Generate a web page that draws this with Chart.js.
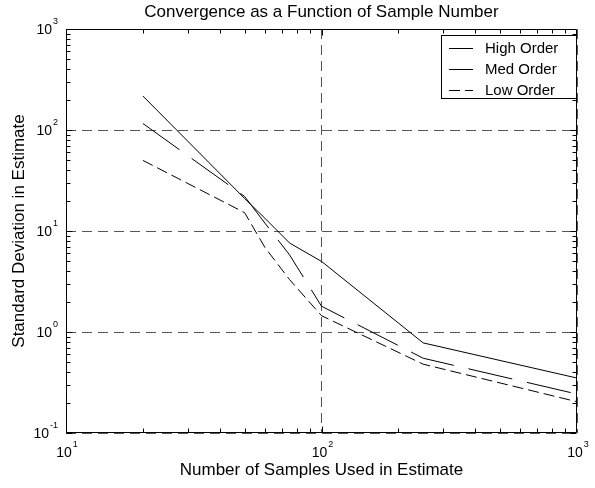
<!DOCTYPE html>
<html>
<head>
<meta charset="utf-8">
<script src="https://cdn.jsdelivr.net/npm/chart.js@4.4.1/dist/chart.umd.min.js"></script>
<style>
  html, body { margin: 0; padding: 0; background: #fff; }
</style>
</head>
<body>
<canvas id="chart" width="595" height="488"></canvas>
<script>
// values
const sampleCounts = [20, 50, 60, 75, 100, 250, 1000];
const highOrder = [217, 21, 13.4, 7.6, 5.0, 0.78, 0.35];
const medOrder = [116, 22, 12, 5.8, 1.8, 0.55, 0.243];
const lowOrder = [50, 15.2, 6.9, 3.3, 1.45, 0.48, 0.204];
const seriesNames = ['High Order', 'Med Order', 'Low Order'];
const xDecades = [10, 100, 1000];
const yDecades = [0.1, 1, 10, 100, 1000];

const FONT = '"Liberation Sans", Arial, sans-serif';

function toPoints(values) {
    return sampleCounts.map((n, i) => ({ x: n, y: values[i] }));
}

// "10" with a raised exponent, like the matlab tick labels
function drawPower(ctx, value, x, y, align) {
    const exp = String(Math.round(Math.log10(value)));
    ctx.font = '14px ' + FONT;
    const bw = ctx.measureText('10').width;
    ctx.font = '9px ' + FONT;
    const ew = ctx.measureText(exp).width;
    const total = bw + 1 + ew;
    const left = align === 'right' ? x - total : x - total / 2;
    ctx.textBaseline = 'middle';
    ctx.textAlign = 'left';
    ctx.font = '14px ' + FONT;
    ctx.fillText('10', left, y);
    ctx.font = '9px ' + FONT;
    ctx.fillText(exp, left + bw + 1, y - 8);
}

const axesBox = {
    id: 'axesBox',
    afterDatasetsDraw(chart) {
        const { ctx, chartArea: a, scales: { x, y } } = chart;
        const px = v => Math.round(v) + 0.5;
        const L = px(a.left), R = px(a.right) - 1, T = px(a.top), B = px(a.bottom) - 1;
        ctx.save();
        ctx.strokeStyle = '#000';
        ctx.lineWidth = 1;
        ctx.beginPath();
        ctx.rect(L, T, R - L, B - T);

        // inward ticks on all four sides, minor ones at 2..9
        for (let i = 0; i < xDecades.length - 1; i++) {
            for (let k = 1; k <= 9; k++) {
                const xx = px(x.getPixelForValue(xDecades[i] * k));
                const len = k === 1 ? 6 : 4;
                ctx.moveTo(xx, B); ctx.lineTo(xx, B - len);
                ctx.moveTo(xx, T); ctx.lineTo(xx, T + len);
            }
        }
        for (let i = 0; i < yDecades.length - 1; i++) {
            for (let k = 1; k <= 9; k++) {
                const yy = px(y.getPixelForValue(yDecades[i] * k));
                const len = k === 1 ? 6 : 4;
                ctx.moveTo(L, yy); ctx.lineTo(L + len, yy);
                ctx.moveTo(R, yy); ctx.lineTo(R - len, yy);
            }
        }
        ctx.stroke();

        ctx.fillStyle = '#000';
        xDecades.forEach(v => drawPower(ctx, v, x.getPixelForValue(v) + 1, a.bottom + 20, 'center'));
        yDecades.forEach(v => drawPower(ctx, v, a.left - 8, y.getPixelForValue(v) + 1, 'right'));
        ctx.restore();
    }
};

const boxLegend = {
    id: 'boxLegend',
    afterDraw(chart) {
        const { ctx } = chart;
        const left = 441, top = 35, right = 576, bottom = 98;
        ctx.save();
        ctx.fillStyle = '#fff';
        ctx.fillRect(left, top, right - left, bottom - top);
        ctx.strokeStyle = '#000';
        ctx.lineWidth = 1;
        ctx.setLineDash([]);
        ctx.strokeRect(left + 0.5, top + 0.5, right - left, bottom - top);
        ctx.font = '15px ' + FONT;
        ctx.textBaseline = 'middle';
        ctx.textAlign = 'left';
        chart.data.datasets.forEach((ds, i) => {
            const yy = Math.round(top + 12.5 + i * 21) + 0.5;
            ctx.strokeStyle = ds.borderColor;
            ctx.setLineDash(ds.borderDash || []);
            ctx.beginPath();
            ctx.moveTo(449, yy);
            ctx.lineTo(473, yy);
            ctx.stroke();
            ctx.setLineDash([]);
            ctx.fillStyle = '#000';
            ctx.fillText(ds.label, 485, yy);
        });
        ctx.restore();
    }
};

const ctx = document.getElementById('chart').getContext('2d');
new Chart(ctx, {
    type: 'line',
    data: {
        datasets: [{
            label: seriesNames[0],
            data: toPoints(highOrder),
            borderColor: '#000',
            borderWidth: 1,
            pointRadius: 0,
            fill: false
        }, {
            label: seriesNames[1],
            data: toPoints(medOrder),
            borderColor: '#000',
            borderWidth: 1,
            borderDash: [45, 15],
            pointRadius: 0,
            fill: false
        }, {
            label: seriesNames[2],
            data: toPoints(lowOrder),
            borderColor: '#000',
            borderWidth: 1,
            borderDash: [11, 5],
            pointRadius: 0,
            fill: false
        }]
    },
    options: {
        responsive: false,
        animation: false,
        devicePixelRatio: 1,
        layout: { padding: { right: 18 }, autoPadding: false },
        plugins: {
            legend: { display: false },
            tooltip: { enabled: false },
            title: {
                display: true,
                fullSize: false, // centre over the axes, not the canvas
                text: 'Convergence as a Function of Sample Number',
                color: '#000',
                font: { family: FONT, size: 17, weight: 'normal' },
                padding: { top: 2.3, bottom: 6.3 }
            }
        },
        scales: {
            x: {
                type: 'logarithmic',
                min: 10,
                max: 1000,
                afterBuildTicks: s => { s.ticks = xDecades.map(v => ({ value: v })); },
                ticks: { display: false },
                grid: { color: '#555', lineWidth: 1, drawTicks: false },
                border: { display: false, dash: [10, 6] },
                title: {
                    display: true,
                    text: 'Number of Samples Used in Estimate',
                    color: '#000',
                    font: { family: FONT, size: 17 },
                    padding: { top: 27.5, bottom: 7.1 }
                }
            },
            y: {
                type: 'logarithmic',
                min: 0.1,
                max: 1000,
                afterBuildTicks: s => { s.ticks = yDecades.map(v => ({ value: v })); },
                ticks: { display: false },
                grid: { color: '#555', lineWidth: 1, drawTicks: false },
                border: { display: false, dash: [10, 6] },
                title: {
                    display: true,
                    text: 'Standard Deviation in Estimate',
                    color: '#000',
                    font: { family: FONT, size: 17 },
                    padding: { top: 8.8, bottom: 36.8 }
                }
            }
        }
    },
    plugins: [axesBox, boxLegend]
});
</script>
</body>
</html>
